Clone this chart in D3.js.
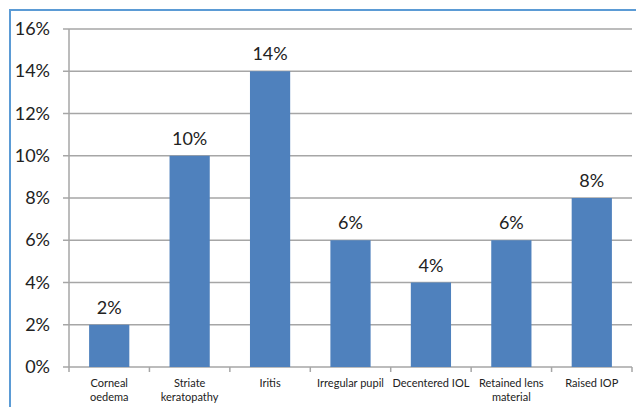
<!DOCTYPE html>
<html>
<head>
<meta charset="utf-8">
<script src="https://cdn.jsdelivr.net/npm/d3@7/dist/d3.min.js"></script>
<style>
  html, body { margin: 0; padding: 0; background: #fff; }
  svg { display: block; }
</style>
</head>
<body>
<script>
// Complication rates (%)
const categories = [
  ["Corneal", "oedema"],
  ["Striate", "keratopathy"],
  ["Iritis"],
  ["Irregular pupil"],
  ["Decentered IOL"],
  ["Retained lens", "material"],
  ["Raised IOP"]
];
const values = [2, 10, 14, 6, 4, 6, 8];
const yTicks = [0, 2, 4, 6, 8, 10, 12, 14, 16];

const W = 636, H = 407;
const margin = { left: 69, right: 4, top: 29, bottom: 40 };

const svg = d3.select("body").append("svg")
  .attr("width", W).attr("height", H);

// chart frame
svg.append("rect")
  .attr("x", 10).attr("y", 10)
  .attr("width", W + 10).attr("height", H + 10)
  .attr("fill", "#fff")
  .attr("stroke", "#5b9bd5").attr("stroke-width", 2);

const keys = categories.map(c => c.join(" "));
const x = d3.scaleBand().domain(keys).range([69, 632]).paddingInner(0.5).paddingOuter(0.25);
const y = d3.scaleLinear().domain([0, 16]).range([367, 29]);

const font = "Lato, 'Open Sans', sans-serif";

// gridlines with left tick marks
svg.append("g").selectAll("line").data(yTicks).join("line")
  .attr("x1", 63).attr("x2", 632)
  .attr("y1", d => y(d)).attr("y2", d => y(d))
  .attr("stroke", "#a6a6a6").attr("stroke-width", 1.5);

// y tick labels
svg.append("g").selectAll("text").data(yTicks).join("text")
  .attr("x", 50).attr("y", d => y(d) + 6)
  .attr("text-anchor", "end")
  .attr("font-family", font).attr("font-size", 18).attr("fill", "#222")
  .text(d => d + "%");

// y axis line
svg.append("line")
  .attr("x1", 69).attr("x2", 69).attr("y1", 29).attr("y2", 367)
  .attr("stroke", "#a6a6a6").attr("stroke-width", 1.5);

// x axis category boundary ticks
const bounds = d3.range(keys.length + 1).map(i => 69 + i * x.step());
svg.append("g").selectAll("line").data(bounds).join("line")
  .attr("x1", d => d).attr("x2", d => d)
  .attr("y1", 367).attr("y2", 372)
  .attr("stroke", "#a6a6a6").attr("stroke-width", 1.5);

// bars
svg.append("g").selectAll("rect").data(values).join("rect")
  .attr("x", (d, i) => x(keys[i]))
  .attr("y", d => y(d))
  .attr("width", x.bandwidth())
  .attr("height", d => y(0) - y(d))
  .attr("fill", "#4f81bd");

// value labels
svg.append("g").selectAll("text").data(values).join("text")
  .attr("x", (d, i) => x(keys[i]) + x.bandwidth() / 2)
  .attr("y", d => y(d) - 11)
  .attr("text-anchor", "middle")
  .attr("font-family", font).attr("font-size", 18).attr("fill", "#222")
  .text(d => d + "%");

// category labels
const cat = svg.append("g").selectAll("text").data(categories).join("text")
  .attr("x", (d, i) => x(keys[i]) + x.bandwidth() / 2)
  .attr("y", 387)
  .attr("text-anchor", "middle")
  .attr("font-family", font).attr("font-size", 11).attr("fill", "#222");
cat.each(function(lines) {
  d3.select(this).selectAll("tspan").data(lines).join("tspan")
    .attr("x", d3.select(this).attr("x"))
    .attr("dy", (d, j) => j === 0 ? 0 : 14)
    .text(d => d);
});
</script>
</body>
</html>
